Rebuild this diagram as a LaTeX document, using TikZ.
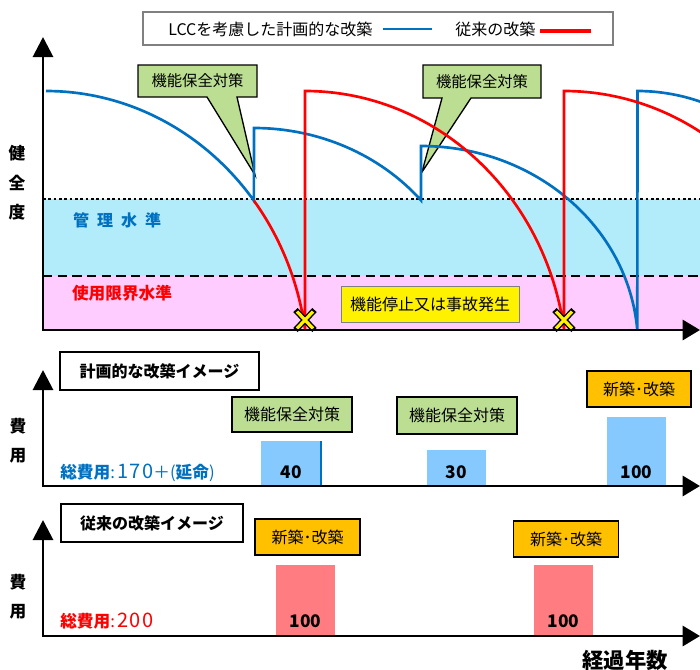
\documentclass[tikz,border=0pt]{standalone}
\usepackage{fontspec}
\setmainfont{Noto Sans CJK JP}
\usepackage{tikz}
\usetikzlibrary{arrows.meta}

\definecolor{lccblue}{RGB}{0,112,192}
\definecolor{convred}{RGB}{255,0,0}
\definecolor{kanricyan}{RGB}{178,235,250}
\definecolor{genkaipink}{RGB}{255,204,255}
\definecolor{hozengreen}{RGB}{187,222,146}
\definecolor{shinchikuorange}{RGB}{255,192,0}
\definecolor{barblue}{RGB}{133,201,255}
\definecolor{barpink}{RGB}{255,124,128}

\tikzset{
    lcc/.style={draw=lccblue, line width=2pt},
    conv/.style={draw=convred, line width=2pt},
    axis/.style={line width=2.2pt, {Triangle[length=15pt,width=15pt]}-{Triangle[length=13pt,width=15pt]}},
    callout/.style={draw, line width=1pt, fill=hozengreen},
    tagbox/.style={draw, line width=1.2pt, inner sep=0pt, font=\fontsize{12}{14}\selectfont},
    titlebox/.style={draw, line width=1.2pt, fill=white, inner sep=0pt, font=\fontsize{12}{14}\selectfont\bfseries},
    barlabel/.style={font=\fontsize{13}{15}\selectfont\bfseries},
    sidelabel/.style={align=center, font=\fontsize{12.5}{22}\selectfont\bfseries},
}
\newcommand{\wideNum}[1]{{\fontsize{15}{16}\selectfont\addfontfeatures{LetterSpace=6}#1}}

\begin{document}
\begin{tikzpicture}[x=0.75pt, y=-0.75pt]
    \useasboundingbox (0,0) rectangle (700,669);
    \draw[gray, line width=0.8pt] (143,12) rectangle (613,45);
    \node[anchor=west, inner sep=0pt, font=\fontsize{12}{14}\selectfont] (legLcc) at (168,29.5) {LCCを考慮した計画的な改築};
    \draw[lcc] (383,29) -- (432,29);
    \node[anchor=west, inner sep=0pt, font=\fontsize{12}{14}\selectfont] (legConv) at (455,29.5) {従来の改築};
    \draw[conv, line width=3pt] (540,31) -- (591,31);

    \fill[kanricyan] (43,199) rectangle (700,276);
    \fill[genkaipink] (43,276) rectangle (700,330);
    \draw[line width=1.2pt, dash pattern=on 2pt off 2pt] (43,199) -- (700,199);
    \draw[line width=2pt, dash pattern=on 7pt off 4pt] (43,276) -- (700,276);
    \node[font=\fontsize{12}{14}\selectfont\bfseries, text=lccblue] (kanri) at (117,220) {管\hspace{6pt}理\hspace{6pt}水\hspace{6pt}準};
    \node[font=\fontsize{12.5}{14}\selectfont\bfseries, text=convred] (genkai) at (122,293) {使用限界水準};
    \node[tagbox, fill=yellow, draw=gray, line width=0.6pt, minimum width=133.5pt, minimum height=27pt] (teishi) at (430,304) {機能停止又は事故発生};
    \node[sidelabel] (kenzen) at (17,183) {健\\全\\度};

    \draw[callout] (138,65) -- (257,65) -- (257,97) -- (237,97) -- (255,175) -- (207,97) -- (138,97) -- cycle;
    \node[font=\fontsize{11.5}{14}\selectfont] (hozenA) at (197.5,81) {機能保全対策};
    \draw[callout] (423,65) -- (541,65) -- (541,98) -- (471,98) -- (422,172) -- (442,98) -- (423,98) -- cycle;
    \node[font=\fontsize{11.5}{14}\selectfont] (hozenB) at (482,81.5) {機能保全対策};

    \begin{scope}
        \clip (43,0) rectangle (700,331);
        \draw[lcc] (46,91) arc [start angle=-90, end angle=-37.5, x radius=262, y radius=280] coordinate (jump1)
            -- (254,128) arc [start angle=-90, end angle=-39.7, x radius=217, y radius=200]
            -- (421,146) arc [start angle=-90, end angle=-4.6, x radius=217, y radius=200]
            -- (637.5,91) arc [start angle=-90, end angle=-70, x radius=230, y radius=280];
        \draw[conv] (jump1) arc [start angle=-37.5, end angle=-8.6, x radius=262, y radius=280]
            -- (305,91) arc [start angle=-90, end angle=-8.6, x radius=262, y radius=280]
            -- (564,91) arc [start angle=-90, end angle=-50, x radius=262, y radius=280];
    \end{scope}
    \foreach \xm in {305,564} {
        \draw[line width=4.5pt] (\xm-9.5,310) -- (\xm+9.5,330) (\xm+9.5,310) -- (\xm-9.5,330);
        \draw[line width=2.4pt, yellow] (\xm-8,311.5) -- (\xm+8,328.5) (\xm+8,311.5) -- (\xm-8,328.5);
    }

    \node[titlebox, minimum width=149pt, minimum height=28.5pt] (keikakuTitle) at (159.5,371) {計画的な改築イメージ};
    \node[tagbox, fill=hozengreen, minimum width=90pt, minimum height=26.5pt] (hozenC) at (292,414.5) {機能保全対策};
    \node[tagbox, fill=hozengreen, minimum width=90pt, minimum height=27.5pt] (hozenD) at (457,415.5) {機能保全対策};
    \node[tagbox, fill=shinchikuorange, minimum width=78pt, minimum height=27pt] (shinchikuA) at (639,389) {新築･改築};
    \fill[barblue] (261,441) rectangle (321,486);
    \fill[barblue] (427,450) rectangle (486,486);
    \fill[barblue] (607,417) rectangle (666,486);
    \draw[lccblue, line width=0.8pt] (321,441) -- (321,486);
    \node[barlabel] (cost40) at (291,472) {40};
    \node[barlabel] (cost30) at (456.5,472) {30};
    \node[barlabel] (cost100A) at (636.5,472) {100};
    \node[anchor=west, inner sep=0pt, font=\fontsize{12.5}{15}\selectfont, text=lccblue] (totalA) at (60,473) {{\bfseries 総費用}:\,\wideNum{170}＋({\bfseries 延命})};
    \node[sidelabel] (hiyouA) at (18,440.5) {費\\用};

    \node[titlebox, minimum width=136.5pt, minimum height=28.5pt] (juraiTitle) at (152,523) {従来の改築イメージ};
    \node[tagbox, fill=shinchikuorange, minimum width=78.75pt, minimum height=27pt] (shinchikuB) at (307.5,537) {新築･改築};
    \node[tagbox, fill=shinchikuorange, minimum width=78.75pt, minimum height=27pt] (shinchikuC) at (566,539) {新築･改築};
    \fill[barpink] (276,565) rectangle (335,635);
    \fill[barpink] (534,565) rectangle (593,635);
    \node[barlabel] (cost100B) at (305.5,621) {100};
    \node[barlabel] (cost100C) at (563.5,621) {100};
    \node[anchor=west, inner sep=0pt, font=\fontsize{12.5}{15}\selectfont, text=convred] (totalB) at (60,621) {{\bfseries 総費用}:\,\wideNum{200}};
    \node[sidelabel] (hiyouB) at (18,597) {費\\用};
    \node[font=\fontsize{16}{18}\selectfont\bfseries] (keika) at (625,660) {経過年数};

    \foreach \yb/\yt in {330/37, 486/370, 636/520}
        \draw[axis] (43,\yt) -- (43,\yb) -- (700,\yb);
\end{tikzpicture}
\end{document}
